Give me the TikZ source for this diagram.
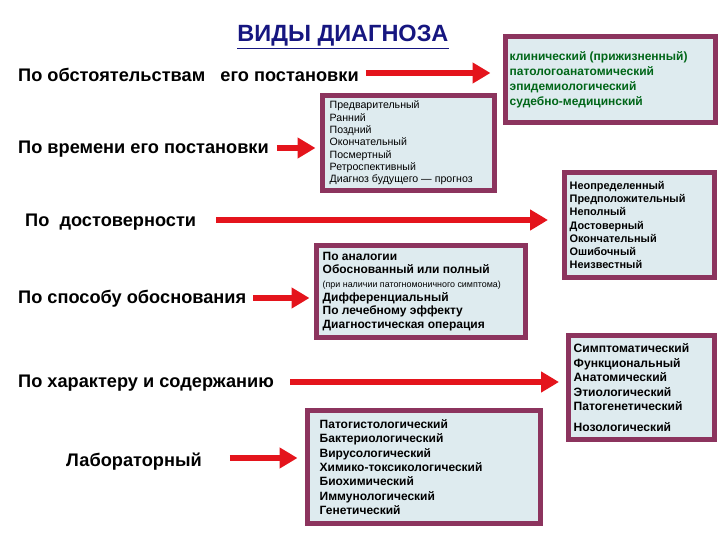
\documentclass[tikz,border=0pt]{standalone}
\usepackage{fontspec}
\setmainfont{Liberation Sans}
\usepackage{tikz}
\usetikzlibrary{arrows.meta}
\usetikzlibrary{positioning}
\usepackage{xcolor}
\definecolor{boxborder}{RGB}{140,52,94}
\definecolor{boxfill}{RGB}{222,235,239}
\definecolor{arrowred}{RGB}{228,20,28}
\definecolor{listgreen}{RGB}{0,102,24}
\definecolor{titleblue}{RGB}{22,22,128}

\begin{document}
\begin{tikzpicture}[x=1pt,y=-1pt,
  kind/.style={anchor=base west,inner sep=0pt,font=\fontsize{18.2}{20}\selectfont\bfseries},
  box/.style={draw=boxborder,fill=boxfill,line width=5pt,inner sep=0pt},
  items/.style={anchor=west,align=left,inner sep=0pt},
  redarrow/.style={draw=arrowred,line width=6pt,-{Triangle[length=18pt,width=20pt]}}]
\useasboundingbox (0,0) rectangle (720,540);

\node[anchor=base,inner sep=0pt,text=titleblue,font=\fontsize{23.5}{26}\selectfont\bfseries] (title) at (343,42) {\underline{ВИДЫ ДИАГНОЗА}};

% left column
\node[kind] (k1) at (18,81.5) {По обстоятельствам\ \ \ его постановки};
\node[kind] (k2) at (18,153.5) {По времени его постановки};
\node[kind] (k3) at (25,226.5) {По\ \ достоверности};
\node[kind] (k4) at (18,303.5) {По способу обоснования};
\node[kind] (k5) at (18,387.5) {По характеру и содержанию};
\node[kind] (k6) at (66,466) {Лабораторный};

% boxes
\node[box,minimum width=210pt,minimum height=86pt] (b1) at (610.5,79.5) {};
\node[box,minimum width=172pt,minimum height=95pt] (b2) at (408.5,143) {};
\node[box,minimum width=150pt,minimum height=105pt] (b3) at (639.5,225) {};
\node[box,minimum width=209pt,minimum height=92pt] (b4) at (421,291.5) {};
\node[box,minimum width=146pt,minimum height=104pt] (b5) at (641.5,387.5) {};
\node[box,minimum width=233pt,minimum height=113pt] (b6) at (424,467) {};

\node[items,text=listgreen,font=\fontsize{12}{15}\selectfont\bfseries] (l1) at ([xshift=6.5pt]b1.west)
  {клинический (прижизненный)\\патологоанатомический\\эпидемиологический\\судебно-медицинский};
\node[items,font=\fontsize{10.6}{12.3}\selectfont] (l2) at ([xshift=9.5pt]b2.west)
  {Предварительный\\Ранний\\Поздний\\Окончательный\\Посмертный\\Ретроспективный\\Диагноз будущего — прогноз};
\node[items,font=\fontsize{10.9}{13.2}\selectfont\bfseries] (l3) at ([xshift=7.5pt]b3.west)
  {Неопределенный\\Предположительный\\Неполный\\Достоверный\\Окончательный\\Ошибочный\\Неизвестный};
\node[items,font=\fontsize{12}{13.6}\selectfont\bfseries] (l4) at ([xshift=8.5pt]b4.west)
  {По аналогии\\Обоснованный или полный\\{\mdseries\fontsize{8.9}{10}\selectfont(при наличии патогномоничного симптома)}\\Дифференциальный\\По лечебному эффекту\\Диагностическая операция};
\node[items,font=\fontsize{12.1}{14.6}\selectfont\bfseries] (l5) at ([xshift=7.5pt]b5.west)
  {Симптоматический\\Функциональный\\Анатомический\\Этиологический\\Патогенетический\\[6pt]Нозологический};
\node[items,font=\fontsize{12}{14.3}\selectfont\bfseries] (l6) at ([xshift=14.5pt]b6.west)
  {Патогистологический\\Бактериологический\\Вирусологический\\Химико-токсикологический\\Биохимический\\Иммунологический\\Генетический};

% arrows
\coordinate (s1) at ([xshift=7pt,yshift=8.5pt]k1.base east);
\coordinate (s2) at ([xshift=8pt,yshift=5.5pt]k2.base east);
\coordinate (s3) at ([xshift=20pt,yshift=6.5pt]k3.base east);
\coordinate (s4) at ([xshift=7pt,yshift=5.5pt]k4.base east);
\coordinate (s5) at ([xshift=16pt,yshift=5.5pt]k5.base east);
\coordinate (s6) at ([xshift=28pt,yshift=8pt]k6.base east);
\draw[redarrow,shorten >=12.5pt] (s1) -- (s1 -| b1.west);
\draw[redarrow,shorten >=4.5pt] (s2) -- (s2 -| b2.west);
\draw[redarrow,shorten >=14pt] (s3) -- (s3 -| b3.west);
\draw[redarrow,shorten >=4.5pt] (s4) -- (s4 -| b4.west);
\draw[redarrow,shorten >=7pt] (s5) -- (s5 -| b5.west);
\draw[redarrow,shorten >=7.5pt] (s6) -- (s6 -| b6.west);
\end{tikzpicture}
\end{document}
